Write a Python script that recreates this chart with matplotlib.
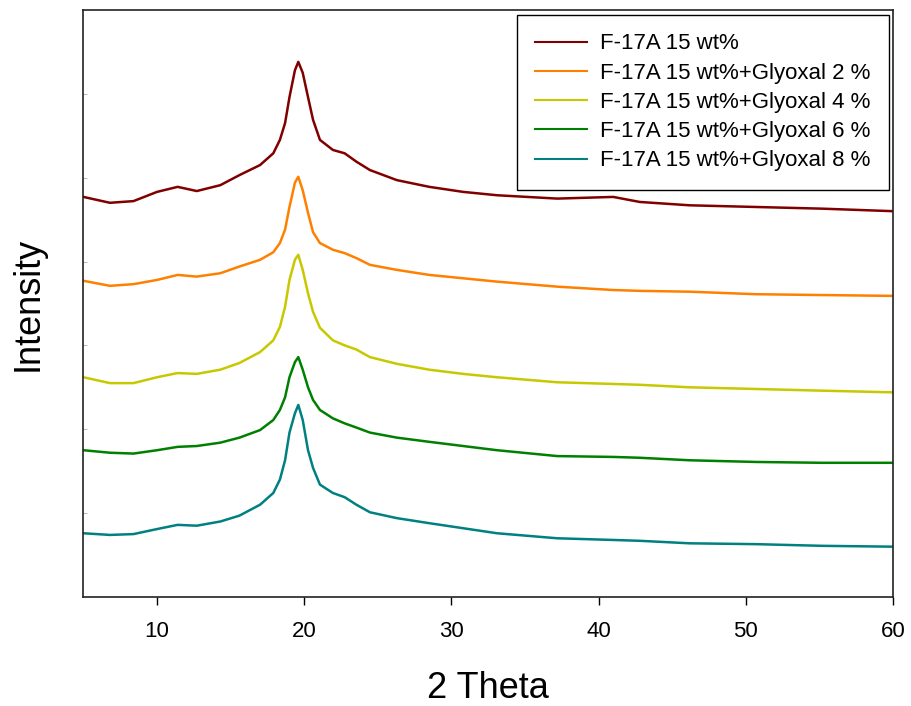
import matplotlib
matplotlib.use("Agg")
import matplotlib.pyplot as plt

plt.rcParams["font.family"] = ["Liberation Sans", "DejaVu Sans"]

# Diffraction angle (2 theta, degrees)
two_theta = [5, 6.8, 8.4, 10, 11.4, 12.7, 14.3, 15.6, 17.0, 17.9, 18.35, 18.7,
             19.0, 19.37, 19.6, 19.9, 20.26, 20.6, 21.07, 21.95, 22.75, 23.55,
             24.47, 26.3, 28.5, 30.8, 33.1, 37.2, 41.0, 42.8, 46.2, 50.7, 55.2, 60]

# Stacked intensity traces (arbitrary units, offset per sample)
f17a_15 = [4.77, 4.70, 4.72, 4.83, 4.89, 4.84, 4.91, 5.03, 5.15, 5.29, 5.45, 5.65,
           5.96, 6.28, 6.38, 6.25, 5.96, 5.69, 5.45, 5.33, 5.29, 5.19,
           5.09, 4.97, 4.89, 4.83, 4.79, 4.75, 4.77, 4.71, 4.67, 4.65, 4.63, 4.60]
glyoxal_2 = [3.77, 3.71, 3.73, 3.78, 3.84, 3.82, 3.86, 3.94, 4.02, 4.11, 4.22, 4.38,
             4.65, 4.94, 5.01, 4.85, 4.58, 4.35, 4.22, 4.14, 4.10, 4.04,
             3.96, 3.90, 3.84, 3.80, 3.76, 3.70, 3.66, 3.65, 3.64, 3.61, 3.60, 3.59]
glyoxal_4 = [2.62, 2.55, 2.55, 2.62, 2.67, 2.66, 2.71, 2.79, 2.92, 3.06, 3.22, 3.46,
             3.78, 4.02, 4.08, 3.90, 3.62, 3.40, 3.21, 3.06, 3.00, 2.95,
             2.86, 2.78, 2.71, 2.66, 2.62, 2.56, 2.54, 2.53, 2.50, 2.48, 2.46, 2.44]
glyoxal_6 = [1.75, 1.72, 1.71, 1.75, 1.79, 1.80, 1.84, 1.90, 1.99, 2.11, 2.23, 2.38,
             2.62, 2.80, 2.86, 2.71, 2.50, 2.35, 2.23, 2.13, 2.07, 2.02,
             1.96, 1.90, 1.85, 1.80, 1.75, 1.68, 1.67, 1.66, 1.63, 1.61, 1.60, 1.60]
glyoxal_8 = [0.76, 0.74, 0.75, 0.81, 0.86, 0.85, 0.90, 0.97, 1.10, 1.24, 1.40, 1.63,
             1.96, 2.19, 2.29, 2.11, 1.75, 1.54, 1.34, 1.24, 1.19, 1.10,
             1.01, 0.94, 0.88, 0.82, 0.76, 0.70, 0.68, 0.67, 0.64, 0.63, 0.61, 0.60]

labels = ["F-17A 15 wt%",
          "F-17A 15 wt%+Glyoxal 2 %",
          "F-17A 15 wt%+Glyoxal 4 %",
          "F-17A 15 wt%+Glyoxal 6 %",
          "F-17A 15 wt%+Glyoxal 8 %"]
series = [f17a_15, glyoxal_2, glyoxal_4, glyoxal_6, glyoxal_8]
colors = ["#800000", "#FF8000", "#C8C800", "#008000", "#008080"]

fig = plt.figure(figsize=(9.12, 7.06), dpi=100)
ax = fig.add_axes([0.0915, 0.1544, 0.8875, 0.8316])

for y, c, lab in zip(series, colors, labels):
    ax.plot(two_theta, y, color=c, lw=1.8, label=lab)

ax.set_xlim(5, 60)
ax.set_ylim(0, 7)
ax.set_xticks([10, 20, 30, 40, 50, 60])
ax.set_yticks([1, 2, 3, 4, 5, 6])
ax.tick_params(axis="x", direction="out", length=6, width=1, labelsize=16, pad=11)
ax.tick_params(axis="y", direction="in", length=3, width=0.6, color="#aaaaaa",
               labelleft=False)
for s in ax.spines.values():
    s.set_linewidth(1.2)
    s.set_color("#222222")

ax.set_xlabel("2 Theta", fontsize=26, labelpad=21)
ax.set_ylabel("Intensity", fontsize=26, labelpad=27)

leg = ax.legend(loc="upper left", bbox_to_anchor=(517 / 912, 1 - 15 / 706),
                bbox_transform=fig.transFigure, fontsize=16, frameon=True,
                fancybox=False, edgecolor="black", framealpha=1,
                handlelength=2.3, handletextpad=0.6, labelspacing=0.37,
                borderpad=0.83, borderaxespad=0)
leg.get_frame().set_linewidth(1.0)
for h in leg.get_lines():
    h.set_linewidth(1.5)

fig.savefig("out.png", dpi=100)
